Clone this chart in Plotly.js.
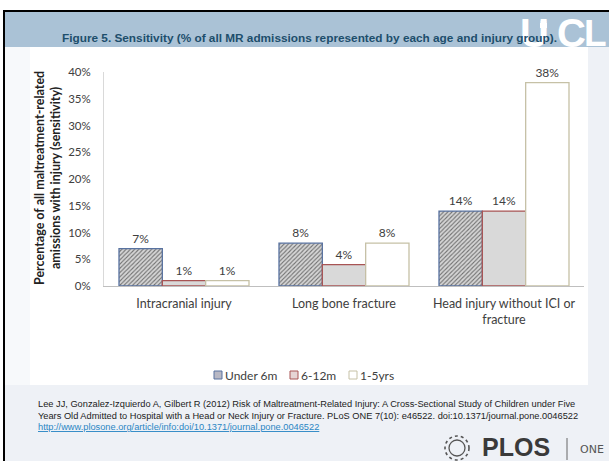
<!DOCTYPE html>
<html><head><meta charset="utf-8">
<script src="https://cdn.plot.ly/plotly-3.0.1.min.js"></script>
<style>html,body{margin:0;padding:0;background:#fff;}#chart{width:609px;height:461px;}</style>
</head><body><div id="chart"></div>
<script>
// ---- data ----
var categories = ["Intracranial injury", "Long bone fracture", "Head injury without ICI or<br>fracture"];
var seriesNames = ["Under 6m", "6-12m", "1-5yrs"];
var under6m = [7, 8, 14];
var m6to12 = [1, 4, 14];
var y1to5 = [1, 8, 38];
var yTicks = [0, 5, 10, 15, 20, 25, 30, 35, 40];
var yTickLabels = ["0%", "5%", "10%", "15%", "20%", "25%", "30%", "35%", "40%"];

var titleText = "Figure 5. Sensitivity (% of all MR admissions represented by each age and injury group).";
var yTitle = "Percentage of all maltreatment-related<br>amissions with injury (sensitivity)";
var citation1 = "Lee JJ, Gonzalez-Izquierdo A, Gilbert R (2012) Risk of Maltreatment-Related Injury: A Cross-Sectional Study of Children under Five";
var citation2 = "Years Old Admitted to Hospital with a Head or Neck Injury or Fracture. PLoS ONE 7(10): e46522. doi:10.1371/journal.pone.0046522";
var citation3 = "http://www.plosone.org/article/info:doi/10.1371/journal.pone.0046522";

// ---- geometry helpers (plot area: x 104..584, y 72..286) ----
var L = 104, R = 584, T = 72, B = 286;
function px(x){ return (x - L) / (R - L); }
function py(y){ return (B - y) / (B - T); }

var font = "Lato, 'Open Sans', sans-serif";
var arial = "'Liberation Sans', Arial, sans-serif";
var txtColor = "#404040";

function barTrace(name, vals, marker){
  return {
    type: "bar", name: name, x: categories, y: vals,
    marker: marker,
    text: vals.map(function(v){ return v + "%"; }),
    textposition: "outside",
    textfont: {family: font, size: 12, color: txtColor},
    cliponaxis: false,
    hoverinfo: "skip",
    showlegend: false
  };
}

var traces = [
  barTrace(seriesNames[0], under6m, {
    color: "#d4d4d4",
    line: {color: "#5872a0", width: 1.3},
    pattern: {shape: "/", fgcolor: "#707070", bgcolor: "#d6d6d6", size: 3, solidity: 0.35}
  }),
  barTrace(seriesNames[1], m6to12, {color: "#d9d9d9", line: {color: "#a85454", width: 1.3}}),
  barTrace(seriesNames[2], y1to5, {color: "#ffffff", line: {color: "#c6c1a6", width: 1.3}})
];

var shapes = [
  {type:"rect", xref:"paper", yref:"paper", x0:px(5), x1:px(609), y0:py(12), y1:py(461), fillcolor:"#eef1f6", line:{width:0}, layer:"below"},
  {type:"rect", xref:"paper", yref:"paper", x0:px(30), x1:px(588), y0:py(47), y1:py(385), fillcolor:"#ffffff", line:{width:0}, layer:"below"},
  {type:"rect", xref:"paper", yref:"paper", x0:px(5), x1:px(30), y0:py(47), y1:py(385), fillcolor:"#f7f9fb", line:{width:0}, layer:"below"},
  {type:"rect", xref:"paper", yref:"paper", x0:px(5), x1:px(609), y0:py(12), y1:py(47), fillcolor:"#aac2d6", line:{width:0}, layer:"below"},
  {type:"line", xref:"paper", yref:"paper", x0:px(3), x1:px(609), y0:py(11), y1:py(11), line:{color:"#000", width:2}},
  {type:"line", xref:"paper", yref:"paper", x0:px(4), x1:px(4), y0:py(10), y1:py(461), line:{color:"#000", width:2}},
  {type:"rect", xref:"paper", yref:"paper", x0:px(540), x1:px(547), y0:py(28), y1:py(23), fillcolor:"#ffffff", line:{width:0}, layer:"below"},
  {type:"circle", xref:"paper", yref:"paper", x0:px(540.5), x1:px(546.5), y0:py(25), y1:py(19), fillcolor:"#ffffff", line:{width:0}, layer:"below"},
  {type:"circle", xref:"paper", yref:"paper", x0:px(445), x1:px(469), y0:py(460), y1:py(436), line:{color:"#555", width:1.6, dash:"dot"}},
  {type:"circle", xref:"paper", yref:"paper", x0:px(449), x1:px(465), y0:py(456), y1:py(440), line:{color:"#555", width:1.3}},
  {type:"line", xref:"paper", yref:"paper", x0:px(567), x1:px(567), y0:py(438), y1:py(460), line:{color:"#666", width:1}}
];

var annotations = [];
// UCL letters (white, behind title)
var uclLetters = ["U", "C", "L"];
var uclX = [534, 571, 609];
var uclAnchor = ["center", "center", "right"];
var uclSize = [40, 40, 37];
uclLetters.forEach(function(ch, i){
  annotations.push({xref:"paper", yref:"paper", x:px(uclX[i]), y:py(33), text:"<b>"+ch+"</b>", showarrow:false, xanchor:uclAnchor[i], yanchor:"middle",
    font:{family:arial, size:uclSize[i], color:"#ffffff"}});
});

annotations = annotations.concat([
  {xref:"paper", yref:"paper", x:px(309), y:py(38), text:"<b>"+titleText+"</b>", showarrow:false, xanchor:"center", yanchor:"middle",
   font:{family:arial, size:11.8, color:"#1d4e6c"}},
  {xref:"paper", yref:"paper", x:px(47), y:py(178), text:"<b>"+yTitle+"</b>", showarrow:false, textangle:-90, xanchor:"center", yanchor:"middle",
   font:{family:font, size:12.5, color:"#222"}},
  {xref:"paper", yref:"paper", x:px(36), y:py(404), text:citation1, showarrow:false, xanchor:"left", yanchor:"middle",
   font:{family:arial, size:9.25, color:"#222"}},
  {xref:"paper", yref:"paper", x:px(36), y:py(415.5), text:citation2, showarrow:false, xanchor:"left", yanchor:"middle",
   font:{family:arial, size:9.25, color:"#222"}},
  {xref:"paper", yref:"paper", x:px(36), y:py(427), text:"<u>"+citation3+"</u>", showarrow:false, xanchor:"left", yanchor:"middle",
   font:{family:arial, size:9.25, color:"#2a86c4"}},
  {xref:"paper", yref:"paper", x:px(516), y:py(447), text:"<b>PLOS</b>", showarrow:false, xanchor:"center", yanchor:"middle",
   font:{family:arial, size:25, color:"#3a3a3a"}},
  {xref:"paper", yref:"paper", x:px(578), y:py(449), text:"ONE", showarrow:false, xanchor:"left", yanchor:"middle",
   font:{family:"'DejaVu Sans', sans-serif", size:11, color:"#555"}}
]);

// manual legend
var legX = [214, 290, 349];
var legFill = ["#b8b8c4", "#e6d4d4", "#ffffff"];
var legLine = ["#5872a0", "#a85454", "#c6c1a6"];
seriesNames.forEach(function(n, i){
  shapes.push({type:"rect", xref:"paper", yref:"paper", x0:px(legX[i]), x1:px(legX[i]+8), y0:py(379), y1:py(371),
    fillcolor:legFill[i], line:{color:legLine[i], width:1}});
  annotations.push({xref:"paper", yref:"paper", x:px(legX[i]+9), y:py(375), text:n, showarrow:false, xanchor:"left", yanchor:"middle",
    font:{family:font, size:12, color:txtColor}});
});

var layout = {
  width: 609, height: 461,
  margin: {l: L, r: 609 - R, t: T, b: 461 - B, pad: 0},
  paper_bgcolor: "#ffffff",
  plot_bgcolor: "rgba(0,0,0,0)",
  barmode: "group",
  bargap: 0.1875,
  bargroupgap: 0,
  showlegend: false,
  xaxis: {
    showline: true, linecolor: "#bfbfbf", linewidth: 1,
    ticks: "", showgrid: false, zeroline: false,
    tickfont: {family: font, size: 12.5, color: txtColor},
    ticklabelstandoff: 6
  },
  yaxis: {
    range: [0, 40], tickvals: yTicks, ticktext: yTickLabels,
    showline: true, linecolor: "#d9d9d9", linewidth: 1,
    ticks: "", showgrid: false, zeroline: false,
    tickfont: {family: font, size: 11.5, color: txtColor},
    ticklabelstandoff: 10
  },
  shapes: shapes,
  annotations: annotations
};

Plotly.newPlot("chart", traces, layout, {displayModeBar: false, staticPlot: true});
</script>
</body></html>
